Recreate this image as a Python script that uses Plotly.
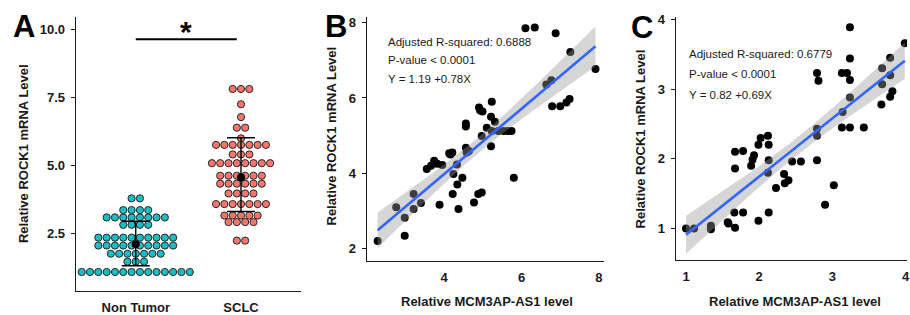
import numpy as np
import plotly.graph_objects as go

W, H = 910, 315
FONT = "Liberation Sans, Arial, sans-serif"

# ---------------- Panel A data ----------------
group_names = ["Non Tumor", "SCLC"]
nontumor_values = [
    3.80, 3.80,
    3.37, 3.37, 3.37, 3.37,
    3.10, 3.10, 3.10, 3.10, 3.10, 3.10, 3.10, 3.10,
    2.83, 2.83, 2.83, 2.83,
    2.36, 2.36, 2.36, 2.36, 2.36, 2.36, 2.36, 2.36, 2.36, 2.36,
    2.07, 2.07, 2.07, 2.07, 2.07, 2.07, 2.07, 2.07, 2.07, 2.07,
    1.77, 1.77, 1.77, 1.77, 1.77, 1.77, 1.77,
    1.48, 1.48, 1.48,
    1.10, 1.10, 1.10, 1.10, 1.10, 1.10, 1.10, 1.10, 1.10, 1.10, 1.10, 1.10, 1.10, 1.10,
]
sclc_values = [
    7.81, 7.81, 7.81,
    7.25,
    6.78,
    6.39, 6.39,
    6.00,
    5.76, 5.76, 5.76, 5.76, 5.76, 5.76, 5.76,
    5.41, 5.41, 5.41,
    5.09, 5.09, 5.09, 5.09, 5.09, 5.09, 5.09, 5.09,
    4.63, 4.63, 4.63, 4.63, 4.63, 4.63,
    4.34, 4.34, 4.34, 4.34, 4.34, 4.34,
    3.98, 3.98, 3.98, 3.98,
    3.59, 3.59, 3.59, 3.59, 3.59, 3.59, 3.59,
    3.17, 3.17, 3.17, 3.17, 3.17,
    2.93, 2.93, 2.93, 2.93,
    2.25, 2.25,
]
group_means = [2.12, 4.57]
group_err_upper = [0.84, 1.45]
group_err_lower = [0.79, 1.25]
group_colors = ["#1CBDC2", "#F8766D"]
sig_label = "*"
a_yticks = [2.5, 5.0, 7.5, 10.0]

# ---------------- Panel B data ----------------
b_x = [2.28, 2.76, 2.98, 2.98, 3.21, 3.21, 3.40, 3.55, 3.66, 3.74, 3.82, 3.95, 3.88,
       4.13, 4.21, 4.16, 4.24, 4.33, 4.22, 4.34, 4.37, 4.47, 4.56, 4.56, 4.56, 4.58,
       4.64, 4.77, 4.88, 4.97, 4.90, 4.93, 4.99, 4.97, 5.10, 5.21, 5.21, 5.23, 5.23,
       5.31, 5.40, 5.53, 5.64, 5.74, 5.80, 6.10, 6.34, 6.64, 6.77, 6.79, 6.88, 7.00,
       7.16, 7.24, 7.26, 7.91]
b_y = [2.20, 3.10, 2.82, 2.34, 3.45, 3.05, 3.21, 4.11, 4.20, 4.33, 4.25, 4.22, 3.16,
       4.53, 4.55, 4.50, 3.98, 4.23, 3.45, 3.70, 3.05, 3.88, 4.68, 5.32, 5.24, 4.55,
       4.59, 3.22, 3.45, 3.49, 5.75, 5.67, 5.64, 4.99, 5.21, 4.72, 5.50, 5.90, 5.12,
       5.37, 5.12, 5.12, 5.12, 5.12, 3.88, 7.85, 7.87, 6.36, 6.47, 5.78, 7.72, 5.78,
       5.88, 5.97, 7.22, 6.77]
b_stats = ["Adjusted R-squared: 0.6888", "P-value < 0.0001", "Y = 1.19 +0.78X"]
b_xticks = [4, 6, 8]
b_yticks = [2, 4, 6, 8]

# ---------------- Panel C data ----------------
c_x = [1.00, 1.11, 1.34, 1.34, 1.57, 1.58, 1.67, 1.66, 1.78, 1.67, 1.67, 1.78, 1.89,
       1.91, 1.93, 1.99, 2.02, 2.12, 2.13, 2.13, 2.12, 1.99, 2.13, 2.23, 2.34, 2.35,
       2.40, 2.45, 2.57, 2.79, 2.79, 2.79, 2.79, 2.81, 2.90, 3.02, 3.13, 3.14, 3.13,
       3.20, 3.24, 3.24, 3.24, 3.24, 3.24, 3.43, 3.67, 3.68, 3.68, 3.79, 3.79, 3.79,
       3.82, 3.99]
c_y = [1.00, 1.00, 1.04, 0.99, 1.09, 1.07, 1.01, 1.23, 1.23, 1.86, 2.10, 2.11, 1.90,
       1.99, 2.05, 2.20, 2.30, 2.33, 2.20, 1.98, 1.80, 1.11, 1.23, 1.58, 1.78, 1.65,
       1.69, 1.96, 1.96, 2.33, 2.43, 1.98, 3.23, 3.12, 1.34, 1.62, 2.45, 2.67, 3.23,
       3.23, 2.88, 3.13, 3.44, 3.89, 2.45, 2.45, 2.78, 3.07, 3.30, 3.45, 3.20, 2.89,
       2.97, 3.66]
c_stats = ["Adjusted R-squared: 0.6779", "P-value < 0.0001", "Y = 0.82 +0.69X"]
c_xticks = [1, 2, 3, 4]
c_yticks = [1, 2, 3, 4]

AXIS_TITLE_Y = "Relative ROCK1 mRNA Level"
AXIS_TITLE_X = "Relative MCM3AP-AS1 level"


def px(x):
    return x / W


def py(y):
    return 1 - y / H


fig = go.Figure()

# ---------- Panel A: dot plot ----------
step = 0.079
for gi, (vals, col) in enumerate(zip([nontumor_values, sclc_values], group_colors)):
    vals = np.array(vals)
    xs, ys = [], []
    for v in sorted(set(vals.tolist()), reverse=True):
        n = int(np.sum(vals == v))
        for i in range(n):
            xs.append(gi + 1 + (i - (n - 1) / 2) * step)
            ys.append(v)
    fig.add_trace(go.Scatter(
        x=xs, y=ys, mode="markers", xaxis="x", yaxis="y",
        marker=dict(size=7.2, color=col, line=dict(color="#262626", width=1)),
        showlegend=False, hoverinfo="skip"))

fig.add_trace(go.Scatter(
    x=[1, 2], y=group_means, mode="markers", xaxis="x", yaxis="y",
    marker=dict(size=8, color="black"),
    error_y=dict(type="data", symmetric=False, array=group_err_upper,
                 arrayminus=group_err_lower, width=14, thickness=1.4, color="black"),
    showlegend=False, hoverinfo="skip"))


# ---------- Panels B, C: scatter + lm ----------
def add_reg(xv, yv, xa, ya):
    xv = np.array(xv, float)
    yv = np.array(yv, float)
    fig.add_trace(go.Scatter(
        x=xv, y=yv, mode="markers", xaxis=xa, yaxis=ya,
        marker=dict(size=8, color="black", line=dict(width=0)),
        showlegend=False, hoverinfo="skip"))
    slope, icpt = np.polyfit(xv, yv, 1)
    n = len(xv)
    resid = yv - (icpt + slope * xv)
    s = np.sqrt(np.sum(resid ** 2) / (n - 2))
    sxx = np.sum((xv - xv.mean()) ** 2)
    gx = np.linspace(xv.min(), xv.max(), 80)
    gy = icpt + slope * gx
    se = s * np.sqrt(1 / n + (gx - xv.mean()) ** 2 / sxx)
    t = 2.006
    up, lo = gy + t * se, gy - t * se
    fig.add_trace(go.Scatter(
        x=np.concatenate([gx, gx[::-1]]), y=np.concatenate([up, lo[::-1]]),
        mode="lines", fill="toself", fillcolor="rgba(153,153,153,0.4)",
        line=dict(width=0), xaxis=xa, yaxis=ya, showlegend=False, hoverinfo="skip"))
    fig.add_trace(go.Scatter(
        x=gx, y=gy, mode="lines", line=dict(color="#3366FF", width=2.6),
        xaxis=xa, yaxis=ya, showlegend=False, hoverinfo="skip"))


add_reg(b_x, b_y, "x2", "y2")
add_reg(c_x, c_y, "x3", "y3")

tickfont = dict(family=FONT, size=13, color="#1a1a1a", weight="bold")
axis_common = dict(showgrid=False, zeroline=False, showline=True, linecolor="#1a1a1a",
                   linewidth=1.3, tickfont=tickfont, tickcolor="#1a1a1a", tickwidth=1.2,
                   ticklabeloverflow="allow")

fig.update_layout(
    width=W, height=H, margin=dict(l=0, r=0, t=0, b=0),
    paper_bgcolor="white", plot_bgcolor="white",
    font=dict(family=FONT, color="#1a1a1a"),
    xaxis=dict(domain=[px(76), px(302)], range=[0.43, 2.57], tickvals=[1, 2],
               ticktext=group_names, ticks="", ticklabelstandoff=5, anchor="y", **axis_common),
    yaxis=dict(domain=[py(293), py(12)], range=[0.42, 10.46], tickvals=a_yticks,
               tickformat=".1f", ticks="outside", ticklen=4, ticklabelstandoff=3,
               anchor="x", **axis_common),
    xaxis2=dict(domain=[px(368), px(606)], range=[2.0, 8.13], tickvals=b_xticks,
                ticks="", ticklabelstandoff=4, anchor="y2", **axis_common),
    yaxis2=dict(domain=[py(263), py(12)], range=[1.66, 8.16], tickvals=b_yticks,
                ticks="outside", ticklen=4, ticklabelstandoff=3, anchor="x2", **axis_common),
    xaxis3=dict(domain=[px(678), 1.0], range=[0.86, 4.02], tickvals=c_xticks,
                ticks="", ticklabelstandoff=4, anchor="y3", **axis_common),
    yaxis3=dict(domain=[py(261.7), py(12.7)], range=[0.546, 4.03], tickvals=c_yticks,
                ticks="outside", ticklen=4, ticklabelstandoff=3, anchor="x3", **axis_common),
)

# significance bar
fig.add_shape(type="line", xref="x", yref="y", x0=1, x1=1.96, y0=9.63, y1=9.63,
              line=dict(color="black", width=2))

ann = []
ann.append(dict(text=sig_label, xref="x", yref="y", x=1.48, y=9.92, showarrow=False,
                font=dict(family=FONT, size=30, color="black", weight="bold"),
                xanchor="center", yanchor="middle"))

# panel letters
for letter, lx, ly in [("A", 11, 22), ("B", 324, 22), ("C", 631, 23)]:
    ann.append(dict(text=letter, xref="paper", yref="paper", x=px(lx), y=py(ly),
                    showarrow=False, xanchor="left", yanchor="middle",
                    font=dict(family=FONT, size=31, color="black", weight="bold")))

title_font = dict(family=FONT, size=13, color="#1a1a1a", weight="bold")
# y-axis titles
for tx, ty in [(23, 152), (333, 134), (643, 137)]:
    ann.append(dict(text=AXIS_TITLE_Y, xref="paper", yref="paper", x=px(tx), y=py(ty),
                    textangle=-90, showarrow=False, xanchor="center", yanchor="middle",
                    font=title_font))
# x-axis titles
for tx, ty in [(489, 304), (798, 304)]:
    ann.append(dict(text=AXIS_TITLE_X, xref="paper", yref="paper", x=px(tx), y=py(ty),
                    showarrow=False, xanchor="center", yanchor="middle", font=title_font))

stat_font = dict(family=FONT, size=11.5, color="#1a1a1a")
for stats, sx, sys_ in [(b_stats, 387, [37.5, 56, 76]), (c_stats, 689, [50, 71, 92.5])]:
    for s, sy in zip(stats, sys_):
        ann.append(dict(text=s, xref="paper", yref="paper", x=px(sx), y=py(sy),
                        showarrow=False, xanchor="left", yanchor="middle", font=stat_font))

fig.update_layout(annotations=ann)

post = ("document.documentElement.style.margin='0';document.body.style.margin='0';"
        "document.body.style.overflow='hidden';"
        "var d=document.getElementsByClassName('plotly-graph-div')[0];"
        "d.style.position='absolute';d.style.left='0px';d.style.top='0px';")
fig.write_html("out.html", post_script=post, config={"displayModeBar": False})
